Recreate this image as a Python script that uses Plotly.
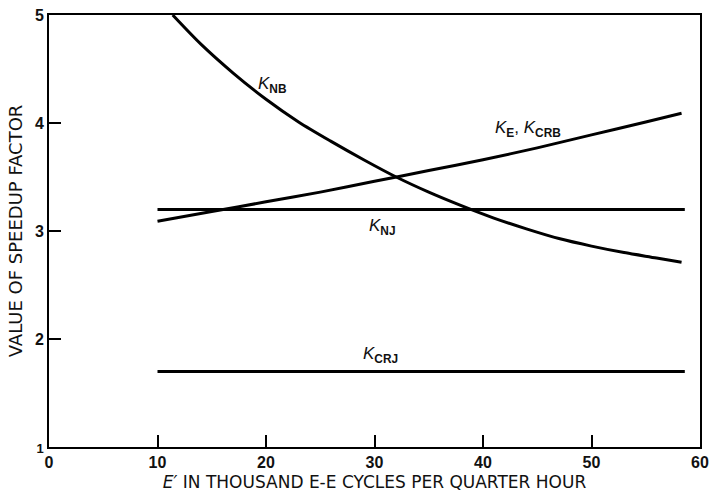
import plotly.graph_objects as go

# K_NB curve
knb_x = [11.4, 14, 17, 20, 23, 26, 29, 32, 35, 38, 41, 44, 47, 50, 53, 56, 58.3]
knb_y = [5.00, 4.73, 4.46, 4.22, 4.01, 3.83, 3.66, 3.50, 3.36, 3.235, 3.12, 3.02, 2.93, 2.86, 2.80, 2.75, 2.71]

# K_E, K_CRB curve
ke_x = [10, 15, 20, 25, 30, 35, 40, 45, 50, 55, 58.3]
ke_y = [3.09, 3.18, 3.27, 3.36, 3.46, 3.56, 3.66, 3.77, 3.89, 4.01, 4.09]

# K_NJ constant
knj_x = [10, 58.6]
knj_y = [3.2, 3.2]

# K_CRJ constant
kcrj_x = [10, 58.6]
kcrj_y = [1.7, 1.7]

x_ticks = [0, 10, 20, 30, 40, 50, 60]
y_ticks = [1, 2, 3, 4, 5]

line = dict(color="black", width=3)
fig = go.Figure()
for xs, ys in [(knb_x, knb_y), (ke_x, ke_y), (knj_x, knj_y), (kcrj_x, kcrj_y)]:
    fig.add_trace(go.Scatter(x=xs, y=ys, mode="lines", line=dict(line, shape="spline", smoothing=0.8),
                             showlegend=False, hoverinfo="skip"))

tickfont = dict(family="Liberation Sans, Arial, sans-serif", size=16, color="#111")
xtitle_font = dict(family="DejaVu Sans, sans-serif", size=17, color="#111")
ytitle_font = dict(family="DejaVu Sans, sans-serif", size=18, color="#111")
lab = dict(family="Liberation Sans, Arial, sans-serif", size=17, color="#111")

annots = [
    (19.1, 4.35, "<i>K</i><sub><b>NB</b></sub>"),
    (40.9, 3.94, "<i>K</i><sub><b>E</b></sub>, <i>K</i><sub><b>CRB</b></sub>"),
    (29.3, 3.04, "<i>K</i><sub><b>NJ</b></sub>"),
    (28.8, 1.85, "<i>K</i><sub><b>CRJ</b></sub>"),
]
for ax, ay, t in annots:
    fig.add_annotation(x=ax, y=ay, text=t, showarrow=False, xanchor="left", yanchor="middle", font=lab)

y_text = ["<span style='font-size:13px'>1</span>", "2", "3", "4", "5"]

fig.update_layout(
    width=709, height=493,
    margin=dict(l=49, r=9, t=15, b=46),
    paper_bgcolor="white", plot_bgcolor="white",
    font=tickfont,
    xaxis=dict(range=[0, 60], tickvals=x_ticks, ticktext=[f"<b>{v}</b>" for v in x_ticks],
               ticks="inside", ticklen=12, tickwidth=2, tickcolor="black",
               showline=True, linecolor="black", linewidth=2, mirror=True,
               showgrid=False, zeroline=False, tickfont=tickfont, automargin=False,
               title=dict(text="<i>E′</i> IN THOUSAND E-E CYCLES PER QUARTER HOUR", font=xtitle_font, standoff=6)),
    yaxis=dict(range=[1, 5], tickvals=y_ticks, ticktext=[f"<b>{t}</b>" for t in y_text],
               ticks="inside", ticklen=12, tickwidth=2, tickcolor="black",
               showline=True, linecolor="black", linewidth=2, mirror=True,
               showgrid=False, zeroline=False, tickfont=tickfont, automargin=False,
               title=dict(text="VALUE OF SPEEDUP FACTOR", font=ytitle_font, standoff=8)),
)

fig.write_html("out.html", config={"displayModeBar": False},
               post_script="document.body.style.margin='0px';document.body.style.overflow='hidden';")
